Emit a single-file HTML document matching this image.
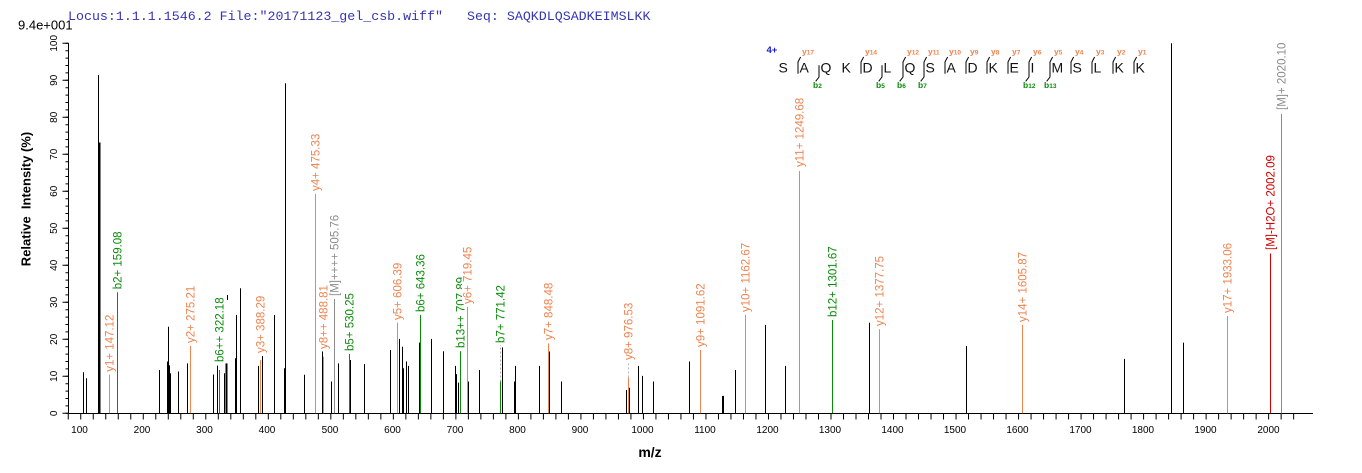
<!DOCTYPE html>
<html><head><meta charset="utf-8"><style>
html,body{margin:0;padding:0;background:#fff;}
svg{display:block;}
text{font-family:"Liberation Sans",Arial,sans-serif;}
</style></head><body>
<svg width="1362" height="473" viewBox="0 0 1362 473" xmlns="http://www.w3.org/2000/svg">
<rect width="1362" height="473" fill="#fff"/>
<text x="68" y="20" font-family="Liberation Mono, monospace" font-size="13.3" fill="#3535b5" xml:space="preserve" style="font-family:'Liberation Mono',monospace">Locus:1.1.1.1546.2 File:"20171123_gel_csb.wiff"   Seq: SAQKDLQSADKEIMSLKK</text>
<text x="18" y="29.5" font-size="13" fill="#000">9.4e+001</text>

<!-- axes -->
<line x1="68" y1="413.5" x2="1313" y2="413.5" stroke="#000" stroke-width="1"/>
<line x1="68.5" y1="43" x2="68.5" y2="414" stroke="#000" stroke-width="1"/>
<line x1="67.75" y1="416.5" x2="1296" y2="416.5" stroke="#000" stroke-width="6" stroke-dasharray="1 11.504"/>
<line x1="67" y1="413.8" x2="67" y2="42" stroke="#000" stroke-width="3" stroke-dasharray="1 6.4"/>
<line x1="65.5" y1="413.8" x2="65.5" y2="42" stroke="#000" stroke-width="6" stroke-dasharray="1 36"/>

<!-- x tick labels -->
<g font-size="10" fill="#000" text-anchor="middle">
<text x="79.5" y="433">100</text><text x="142" y="433">200</text><text x="204.5" y="433">300</text><text x="267" y="433">400</text><text x="330" y="433">500</text><text x="392.5" y="433">600</text><text x="455" y="433">700</text><text x="517.5" y="433">800</text><text x="580" y="433">900</text><text x="642.5" y="433">1000</text><text x="705" y="433">1100</text><text x="767.5" y="433">1200</text><text x="830" y="433">1300</text><text x="892.5" y="433">1400</text><text x="955" y="433">1500</text><text x="1017.5" y="433">1600</text><text x="1080.5" y="433">1700</text><text x="1143" y="433">1800</text><text x="1205.5" y="433">1900</text><text x="1268.5" y="433">2000</text>
</g>
<!-- y tick labels -->
<g font-size="10" fill="#000" text-anchor="middle">
<text transform="translate(57,413.3) rotate(-90)">0</text>
<text transform="translate(57,376.3) rotate(-90)">10</text>
<text transform="translate(57,339.3) rotate(-90)">20</text>
<text transform="translate(57,302.3) rotate(-90)">30</text>
<text transform="translate(57,265.3) rotate(-90)">40</text>
<text transform="translate(57,228.3) rotate(-90)">50</text>
<text transform="translate(57,191.3) rotate(-90)">60</text>
<text transform="translate(57,154.3) rotate(-90)">70</text>
<text transform="translate(57,117.3) rotate(-90)">80</text>
<text transform="translate(57,80.3) rotate(-90)">90</text>
<text transform="translate(57,43.3) rotate(-90)">100</text>
</g>
<text transform="translate(30.7,199) rotate(-90)" font-size="13" font-weight="bold" text-anchor="middle" xml:space="preserve">Relative  Intensity (%)</text>
<text x="650" y="457" font-size="14" font-weight="bold" text-anchor="middle">m/z</text>

<!-- black peaks -->
<g stroke="#000" stroke-width="1" fill="none">
<line x1="83.5" y1="413.3" x2="83.5" y2="372.2"/>
<line x1="86.5" y1="413.3" x2="86.5" y2="378.2"/>
<line x1="98.5" y1="413.3" x2="98.5" y2="75.1"/>
<line x1="99.5" y1="413.3" x2="99.5" y2="142.5" stroke-width="2"/>
<line x1="159.5" y1="413.3" x2="159.5" y2="370"/>
<line x1="167.5" y1="413.3" x2="167.5" y2="361.5"/>
<line x1="168.5" y1="413.3" x2="168.5" y2="326.7"/>
<line x1="169.5" y1="413.3" x2="169.5" y2="365.2"/>
<line x1="170.5" y1="413.3" x2="170.5" y2="373.3"/>
<line x1="178.5" y1="413.3" x2="178.5" y2="371.5"/>
<line x1="187.5" y1="413.3" x2="187.5" y2="363.4"/>
<line x1="213.5" y1="413.3" x2="213.5" y2="374.5"/>
<line x1="217.5" y1="413.3" x2="217.5" y2="365.6"/>
<line x1="224.5" y1="413.3" x2="224.5" y2="373.3"/>
<line x1="226.5" y1="413.3" x2="226.5" y2="363.4" stroke-width="2"/>
<line x1="227.5" y1="300" x2="227.5" y2="295"/>
<line x1="235.5" y1="413.3" x2="235.5" y2="358.2"/>
<line x1="236.5" y1="413.3" x2="236.5" y2="314.9"/>
<line x1="240.5" y1="413.3" x2="240.5" y2="288.2"/>
<line x1="258.5" y1="413.3" x2="258.5" y2="365.9"/>
<line x1="262.5" y1="413.3" x2="262.5" y2="356"/>
<line x1="274.5" y1="413.3" x2="274.5" y2="314.9"/>
<line x1="284.5" y1="413.3" x2="284.5" y2="368.2"/>
<line x1="285.5" y1="413.3" x2="285.5" y2="83.3"/>
<line x1="304.5" y1="413.3" x2="304.5" y2="374.8"/>
<line x1="322.5" y1="413.3" x2="322.5" y2="351.5"/>
<line x1="331.5" y1="413.3" x2="331.5" y2="381.5"/>
<line x1="338.5" y1="413.3" x2="338.5" y2="363.4"/>
<line x1="350.5" y1="413.3" x2="350.5" y2="360"/>
<line x1="364.5" y1="413.3" x2="364.5" y2="364.1"/>
<line x1="390.5" y1="413.3" x2="390.5" y2="350"/>
<line x1="399.5" y1="413.3" x2="399.5" y2="338.9"/>
<line x1="402.5" y1="413.3" x2="402.5" y2="346.7"/>
<line x1="403.5" y1="413.3" x2="403.5" y2="368.2"/>
<line x1="406.5" y1="413.3" x2="406.5" y2="361.5"/>
<line x1="408.5" y1="413.3" x2="408.5" y2="365.9"/>
<line x1="419.5" y1="413.3" x2="419.5" y2="342.6"/>
<line x1="431.5" y1="413.3" x2="431.5" y2="338.9"/>
<line x1="443.5" y1="413.3" x2="443.5" y2="351.2"/>
<line x1="455.5" y1="413.3" x2="455.5" y2="365.9"/>
<line x1="456.5" y1="413.3" x2="456.5" y2="374.1"/>
<line x1="458.5" y1="413.3" x2="458.5" y2="382.6"/>
<line x1="468.5" y1="413.3" x2="468.5" y2="381.5"/>
<line x1="479.5" y1="413.3" x2="479.5" y2="370"/>
<line x1="502.5" y1="413.3" x2="502.5" y2="347.4"/>
<line x1="514.5" y1="413.3" x2="514.5" y2="381.5"/>
<line x1="515.5" y1="413.3" x2="515.5" y2="365.9"/>
<line x1="539.5" y1="413.3" x2="539.5" y2="365.9"/>
<line x1="549.5" y1="413.3" x2="549.5" y2="351.5"/>
<line x1="561.5" y1="413.3" x2="561.5" y2="381.5"/>
<line x1="626.5" y1="413.3" x2="626.5" y2="390"/>
<line x1="629.5" y1="413.3" x2="629.5" y2="387.8"/>
<line x1="638.5" y1="413.3" x2="638.5" y2="365.9"/>
<line x1="642.5" y1="413.3" x2="642.5" y2="375.9"/>
<line x1="653.5" y1="413.3" x2="653.5" y2="381.5"/>
<line x1="689.5" y1="413.3" x2="689.5" y2="361.5"/>
<line x1="723" y1="413.3" x2="723" y2="395.9" stroke-width="2"/>
<line x1="735.5" y1="413.3" x2="735.5" y2="370"/>
<line x1="765.5" y1="413.3" x2="765.5" y2="324.9"/>
<line x1="785.5" y1="413.3" x2="785.5" y2="365.9"/>
<line x1="869.5" y1="413.3" x2="869.5" y2="322.7"/>
<line x1="966.5" y1="413.3" x2="966.5" y2="346"/>
<line x1="1124.5" y1="413.3" x2="1124.5" y2="358.9"/>
<line x1="1171.5" y1="413.3" x2="1171.5" y2="43.3"/>
<line x1="1183.5" y1="413.3" x2="1183.5" y2="342.6"/>
</g>

<!-- annotated peaks -->
<g stroke-width="1" fill="none">
<line x1="109.5" y1="413.3" x2="109.5" y2="374.8" stroke="#EE8450"/>
<line x1="117.5" y1="413.3" x2="117.5" y2="292.3" stroke="#0A8C0A"/>
<line x1="190.5" y1="413.3" x2="190.5" y2="346" stroke="#EE8450"/>
<line x1="219.5" y1="413.3" x2="219.5" y2="370" stroke="#0A8C0A"/>
<line x1="260.5" y1="413.3" x2="260.5" y2="360" stroke="#EE8450"/>
<line x1="315.5" y1="413.3" x2="315.5" y2="193.9" stroke="#EE8450"/>
<line x1="323.5" y1="413.3" x2="323.5" y2="356.7" stroke="#EE8450"/>
<line x1="334.5" y1="413.3" x2="334.5" y2="299" stroke="#8C8C8C"/>
<line x1="349.5" y1="413.3" x2="349.5" y2="354" stroke="#0A8C0A"/>
<line x1="397.5" y1="413.3" x2="397.5" y2="322.6" stroke="#EE8450"/>
<line x1="420.5" y1="413.3" x2="420.5" y2="314.9" stroke="#0A8C0A"/>
<line x1="460.5" y1="413.3" x2="460.5" y2="351.2" stroke="#0A8C0A"/>
<line x1="467.5" y1="413.3" x2="467.5" y2="306.7" stroke="#EE8450"/>
<line x1="500.5" y1="413.3" x2="500.5" y2="381.5" stroke="#0A8C0A"/>
<line x1="500.5" y1="381.5" x2="500.5" y2="345" stroke="#aaaaaa" stroke-dasharray="2 2"/>
<line x1="548.5" y1="413.3" x2="548.5" y2="343.4" stroke="#EE8450"/>
<line x1="628.5" y1="413.3" x2="628.5" y2="377.4" stroke="#EE8450"/>
<line x1="628.5" y1="377.4" x2="628.5" y2="362" stroke="#bbbbbb" stroke-dasharray="2 2"/>
<line x1="700.5" y1="413.3" x2="700.5" y2="350" stroke="#EE8450"/>
<line x1="745.5" y1="413.3" x2="745.5" y2="314.9" stroke="#EE8450"/>
<line x1="799.5" y1="413.3" x2="799.5" y2="171" stroke="#EE8450"/>
<line x1="832.5" y1="413.3" x2="832.5" y2="320" stroke="#0A8C0A"/>
<line x1="879.5" y1="413.3" x2="879.5" y2="329.3" stroke="#EE8450"/>
<line x1="1022.5" y1="413.3" x2="1022.5" y2="324.9" stroke="#EE8450"/>
<line x1="1227.5" y1="413.3" x2="1227.5" y2="316" stroke="#EE8450"/>
<line x1="1270.5" y1="413.3" x2="1270.5" y2="253.5" stroke="#D00000"/>
<line x1="1281.5" y1="413.3" x2="1281.5" y2="114" stroke="#8C8C8C"/>
</g>

<!-- peak labels -->
<g font-size="11.5">
<text transform="translate(113.5,371.8) rotate(-90)" fill="#EE8450">y1+ 147.12</text>
<text transform="translate(121.5,289.3) rotate(-90)" fill="#0A8C0A">b2+ 159.08</text>
<text transform="translate(194.5,343) rotate(-90)" fill="#EE8450">y2+ 275.21</text>
<text transform="translate(223.5,362) rotate(-90)" fill="#0A8C0A">b6++ 322.18</text>
<text transform="translate(264.5,353) rotate(-90)" fill="#EE8450">y3+ 388.29</text>
<text transform="translate(319.5,191) rotate(-90)" fill="#EE8450">y4+ 475.33</text>
<text transform="translate(327.5,349) rotate(-90)" fill="#EE8450">y8++ 488.81</text>
<text transform="translate(338.5,296) rotate(-90)" fill="#8C8C8C">[M]++++ 505.76</text>
<text transform="translate(353.5,351) rotate(-90)" fill="#0A8C0A">b5+ 530.25</text>
<text transform="translate(401.5,320) rotate(-90)" fill="#EE8450">y5+ 606.39</text>
<text transform="translate(424.5,312) rotate(-90)" fill="#0A8C0A">b6+ 643.36</text>
<text transform="translate(464.5,348) rotate(-90)" fill="#0A8C0A">b13++ 707.89</text>
<rect x="462" y="246" width="11" height="58" fill="#fff"/>
<text transform="translate(471.5,304) rotate(-90)" fill="#EE8450">y6+ 719.45</text>
<text transform="translate(504.5,343) rotate(-90)" fill="#0A8C0A">b7+ 771.42</text>
<text transform="translate(552.5,340) rotate(-90)" fill="#EE8450">y7+ 848.48</text>
<text transform="translate(632.5,360) rotate(-90)" fill="#EE8450">y8+ 976.53</text>
<text transform="translate(704.5,347) rotate(-90)" fill="#EE8450">y9+ 1091.62</text>
<text transform="translate(749.5,312) rotate(-90)" fill="#EE8450">y10+ 1162.67</text>
<text transform="translate(803.5,167) rotate(-90)" fill="#EE8450">y11+ 1249.68</text>
<text transform="translate(836.5,317) rotate(-90)" fill="#0A8C0A">b12+ 1301.67</text>
<text transform="translate(883.5,326) rotate(-90)" fill="#EE8450">y12+ 1377.75</text>
<text transform="translate(1026.5,322) rotate(-90)" fill="#EE8450">y14+ 1605.87</text>
<text transform="translate(1231.5,313) rotate(-90)" fill="#EE8450">y17+ 1933.06</text>
<text transform="translate(1274.5,250) rotate(-90)" fill="#D00000">[M]-H2O+ 2002.09</text>
<text transform="translate(1285.5,110) rotate(-90)" fill="#8C8C8C">[M]+ 2020.10</text>
</g>

<!-- peptide annotation -->
<text x="766.5" y="53" font-size="9.5" font-weight="bold" fill="#1a1acc">4+</text>
<g font-size="14" fill="#111">
<text x="778.5" y="72.5">S</text><text x="799.5" y="72.5">A</text><text x="820.5" y="72.5">Q</text><text x="841.5" y="72.5">K</text><text x="862.5" y="72.5">D</text><text x="883.5" y="72.5">L</text><text x="904.5" y="72.5">Q</text><text x="925.5" y="72.5">S</text><text x="946.5" y="72.5">A</text><text x="967.5" y="72.5">D</text><text x="988.5" y="72.5">K</text><text x="1009.5" y="72.5">E</text><text x="1030.5" y="72.5">I</text><text x="1051.5" y="72.5">M</text><text x="1072.5" y="72.5">S</text><text x="1093.5" y="72.5">L</text><text x="1114.5" y="72.5">K</text><text x="1135.5" y="72.5">K</text>
</g>
<g stroke="#000" stroke-width="1" fill="none">
<path d="M798 73.7V62L800.6 57"/>
<path d="M819 65.3V77L815.7 81.3"/>
<path d="M861 73.7V62L863.6 57"/>
<path d="M882 65.3V77L878.7 81.3"/>
<path d="M905.6 57L903 62V77L899.7 81.3"/>
<path d="M926.6 57L924 62V77L920.7 81.3"/>
<path d="M945 73.7V62L947.6 57"/>
<path d="M966 73.7V62L968.6 57"/>
<path d="M987 73.7V62L989.6 57"/>
<path d="M1008 73.7V62L1010.6 57"/>
<path d="M1031.6 57L1029 62V77L1025.7 81.3"/>
<path d="M1052.6 57L1050 62V77L1046.7 81.3"/>
<path d="M1071 73.7V62L1073.6 57"/>
<path d="M1092 73.7V62L1094.6 57"/>
<path d="M1113 73.7V62L1115.6 57"/>
<path d="M1134 73.7V62L1136.6 57"/>
</g>
<g font-weight="bold" fill="#EE8450" font-size="8.5">
<text x="802" y="54.5">y<tspan font-size="6.5">17</tspan></text>
<text x="865" y="54.5">y<tspan font-size="6.5">14</tspan></text>
<text x="907" y="54.5">y<tspan font-size="6.5">12</tspan></text>
<text x="928" y="54.5">y<tspan font-size="6.5">11</tspan></text>
<text x="949" y="54.5">y<tspan font-size="6.5">10</tspan></text>
<text x="970" y="54.5">y<tspan font-size="6.5">9</tspan></text>
<text x="991" y="54.5">y<tspan font-size="6.5">8</tspan></text>
<text x="1012" y="54.5">y<tspan font-size="6.5">7</tspan></text>
<text x="1033" y="54.5">y<tspan font-size="6.5">6</tspan></text>
<text x="1054" y="54.5">y<tspan font-size="6.5">5</tspan></text>
<text x="1075" y="54.5">y<tspan font-size="6.5">4</tspan></text>
<text x="1096" y="54.5">y<tspan font-size="6.5">3</tspan></text>
<text x="1117" y="54.5">y<tspan font-size="6.5">2</tspan></text>
<text x="1138" y="54.5">y<tspan font-size="6.5">1</tspan></text>
</g>
<g font-weight="bold" fill="#0A8C0A" font-size="8.5">
<text x="813" y="88">b<tspan font-size="6.5">2</tspan></text>
<text x="876" y="88">b<tspan font-size="6.5">5</tspan></text>
<text x="897" y="88">b<tspan font-size="6.5">6</tspan></text>
<text x="918" y="88">b<tspan font-size="6.5">7</tspan></text>
<text x="1023" y="88">b<tspan font-size="6.5">12</tspan></text>
<text x="1044" y="88">b<tspan font-size="6.5">13</tspan></text>
</g>
</svg>
</body></html>
